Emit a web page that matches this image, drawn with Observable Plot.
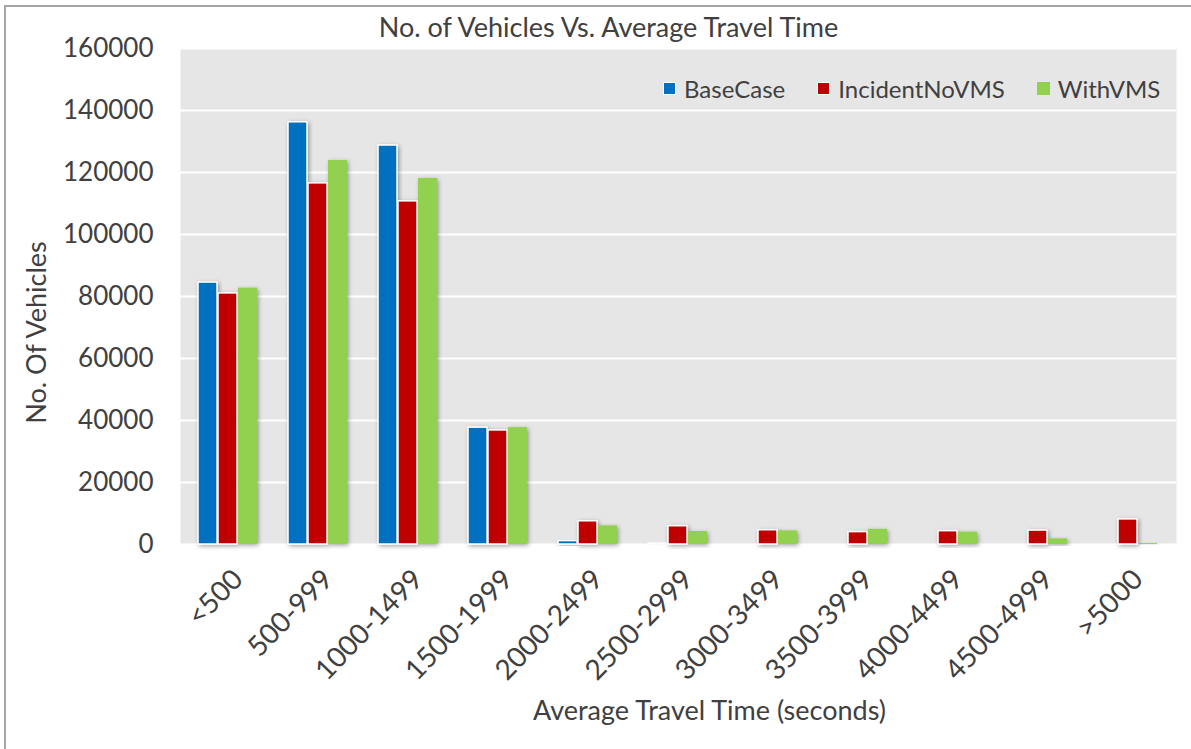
<!DOCTYPE html>
<html><head><meta charset="utf-8">
<script src="https://cdn.jsdelivr.net/npm/d3@7"></script>
<script src="https://cdn.jsdelivr.net/npm/@observablehq/plot@0.6"></script>
<style>
body{margin:0;background:#fff;font-family:Lato,sans-serif;}
#wrap{position:relative;width:1191px;height:749px;overflow:hidden;}
#border{position:absolute;left:4px;top:5px;right:-5px;bottom:-5px;border-left:2px solid #a6a6a6;border-top:2px solid #a6a6a6;}
#chart{position:absolute;left:0;top:0;}
#legend{position:absolute;top:74px;left:663px;display:flex;align-items:center;font-size:24px;color:#404040;font-family:Lato,sans-serif;}
#legend .it{display:flex;align-items:center;margin-right:32px;}
#legend .it:last-child{margin-right:0;}
#legend .sw{width:13px;height:13px;margin-right:8px;box-sizing:border-box;}
</style>
</head><body>
<div id="wrap"><div id="border"></div><div id="chart"></div><div id="legend"></div></div>
<script>
const categories = ["<500","500-999","1000-1499","1500-1999","2000-2499","2500-2999","3000-3499","3500-3999","4000-4499","4500-4999",">5000"];
const seriesNames = ["BaseCase","IncidentNoVMS","WithVMS"];
const baseCase      = [84500,136200,128700,37700,1100,300,0,0,0,0,0];
const incidentNoVMS = [81000,116500,110700,36800,7500,5900,4600,4000,4300,4500,8100];
const withVMS       = [82700,123900,118100,37700,6000,4200,4400,4900,4000,1800,300];
const yTicks = [0,20000,40000,60000,80000,100000,120000,140000,160000];
const colors = ["#0070C0","#C00000","#92D050"];

const seriesValues = [baseCase, incidentNoVMS, withVMS];
const rows = categories.flatMap((c,i)=>seriesNames.map((s,j)=>({cat:c, s, v:seriesValues[j][i]})));

const barFor = (j, opts) => Plot.barY(rows, {
  filter: d => d.s === seriesNames[j] && d.v > 0,
  x: "cat", y: "v", fill: colors[j], ...opts
});

const txt = {textAnchor: "middle", lineAnchor: "middle", fill: "#404040"};

const chart = Plot.plot({
  width: 1191, height: 749,
  marginLeft: 180, marginRight: 15, marginTop: 48, marginBottom: 205,
  style: {fontFamily: "Lato, sans-serif", color: "#404040", background: "transparent", overflow: "visible"},
  x: {domain: categories, paddingInner: 0.34, paddingOuter: 0.17},
  y: {domain: [0,160000]},
  marks: [
    Plot.frame({fill: "#e6e6e6", stroke: null}),
    Plot.ruleY(yTicks, {stroke: "#ffffff", strokeWidth: 2}),
    barFor(0, {insetLeft: 0, insetRight: 40, stroke: "#fff", strokeWidth: 1.5}),
    barFor(1, {insetLeft: 20, insetRight: 20, stroke: "#fff", strokeWidth: 1.5}),
    barFor(2, {insetLeft: 40, insetRight: 0}),
    Plot.axisY({ticks: yTicks, tickSize: 0, tickPadding: 27, tickFormat: d => String(d), label: null, fontSize: 26, fill: "#404040"}),
    Plot.axisX({tickSize: 0, tickRotate: -46, tickPadding: 30, label: null, fontSize: 28, fill: "#404040", dx: 10}),
    Plot.text(["No. of Vehicles Vs. Average Travel Time"], {...txt, frameAnchor: "top", dx: -70, dy: -20, fontSize: 27}),
    Plot.text(["No. Of Vehicles"], {...txt, frameAnchor: "left", rotate: -90, dx: -143, dy: 36, fontSize: 27}),
    Plot.text(["Average Travel Time (seconds)"], {...txt, frameAnchor: "bottom", dx: 31, dy: 167, fontSize: 27})
  ]
});

const svg = d3.select(chart);
const defs = svg.insert("defs", ":first-child");
const f = defs.append("filter").attr("id","sh").attr("x","-30%").attr("y","-30%").attr("width","160%").attr("height","160%");
f.append("feDropShadow").attr("dx",1.5).attr("dy",1.5).attr("stdDeviation",2).attr("flood-color","#000").attr("flood-opacity",0.35);
svg.selectAll('g[aria-label="bar"] rect').attr("filter","url(#sh)");

document.getElementById("chart").appendChild(chart);

const legend = d3.select("#legend");
seriesNames.forEach((s,j)=>{
  const it = legend.append("div").attr("class","it");
  it.append("div").attr("class","sw").style("background", colors[j]).style("border", j<2 ? "1px solid #fff" : "none");
  it.append("span").text(s);
});
</script>
</body></html>
